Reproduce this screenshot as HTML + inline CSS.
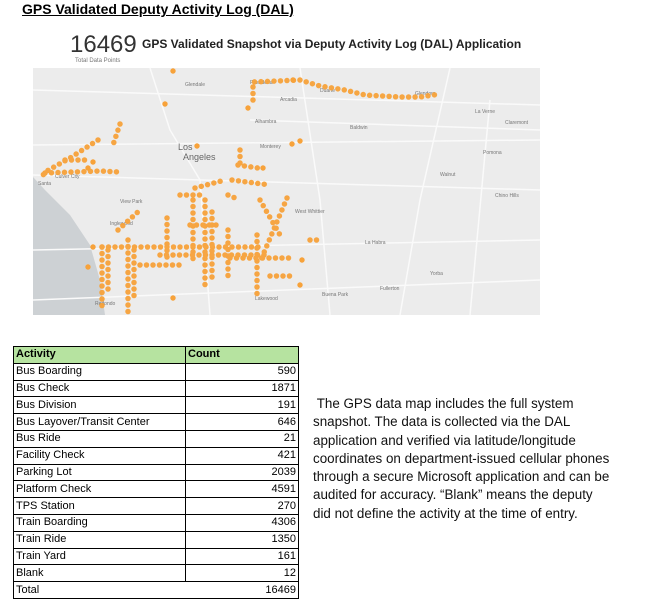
<!DOCTYPE html>
<html><head><meta charset="utf-8"><style>
body{margin:0;width:664px;height:604px;background:#fff;position:relative;font-family:"Liberation Sans",sans-serif;overflow:hidden}
.a{position:absolute;white-space:nowrap}
table{position:absolute;left:13px;top:346px;border-collapse:collapse;font-size:11px;}
td{border:1px solid #000;height:15.8px;padding:0 2px;line-height:15px}
td.n{text-align:right}
.p{position:absolute;left:313px;top:395px;font-size:13.4px;line-height:18.3px;color:#111}
</style></head><body>
<div class="a" style="left:22px;top:1px;font-size:14px;font-weight:bold;text-decoration:underline">GPS Validated Deputy Activity Log (DAL)</div>
<div class="a" style="left:70px;top:31px;font-size:24px;color:#333;font-weight:300">16469</div>
<div class="a" style="left:75px;top:58px;font-size:6px;color:#777">Total Data Points</div>
<div class="a" style="left:142px;top:37px;font-size:12px;font-weight:bold;color:#222">GPS Validated Snapshot via Deputy Activity Log (DAL) Application</div>
<svg class="a" style="left:0;top:0" width="664" height="330">
<rect x="33" y="68" width="507" height="247" fill="#ececec"/>
<path d="M33 177 L45 190 L70 215 L90 245 L100 280 L105 315 L33 315 Z" fill="#cdd1d4"/>
<g stroke="#fafafa" stroke-width="1.5" fill="none">
<path d="M33 90 L540 105"/><path d="M150 68 L170 130 L200 180 L210 315"/><path d="M33 145 L540 140"/>
<path d="M33 175 L540 190"/><path d="M300 68 L320 200 L330 315"/><path d="M450 68 L420 200 L400 315"/>
<path d="M33 250 L540 240"/><path d="M250 120 L540 130"/><path d="M33 300 L540 280"/><path d="M490 100 L470 315"/>
</g>
<g fill="#777" font-size="5">
<text x="185" y="86">Glendale</text><text x="250" y="84">Pasadena</text><text x="320" y="92">Duarte</text><text x="415" y="95">Glendora</text>
<text x="255" y="123">Alhambra</text><text x="280" y="101">Arcadia</text><text x="475" y="113">La Verne</text><text x="505" y="124">Claremont</text>
<text x="178" y="150" font-size="9" fill="#666">Los</text><text x="183" y="160" font-size="9" fill="#666">Angeles</text>
<text x="260" y="148">Monterey</text><text x="350" y="129">Baldwin</text><text x="483" y="154">Pomona</text><text x="440" y="176">Walnut</text>
<text x="120" y="203">View Park</text><text x="110" y="225">Inglewood</text><text x="365" y="244">La Habra</text><text x="380" y="290">Fullerton</text>
<text x="295" y="213">West Whittier</text><text x="255" y="300">Lakewood</text><text x="95" y="305">Redondo</text><text x="495" y="197">Chino Hills</text>
<text x="55" y="178">Culver City</text><text x="38" y="185">Santa</text><text x="322" y="296">Buena Park</text><text x="430" y="275">Yorba</text>
</g>
<g stroke="#f7a23a" stroke-width="5.5" stroke-linecap="round" fill="none" stroke-dasharray="0 6.5" opacity="0.95">
<path d="M253 100 L253 82 L300 80 L320 86 L345 90 L365 95 L400 97 L420 97 L440 94"/>
<path d="M120 124 L113 145 M98 140 L70 158 L45 172 L40 180"/>
<path d="M45 173 L100 171 L120 172 M65 160 L90 160"/>
<path d="M240 150 L240 166 M232 180 L270 185 M238 165 L258 168"/>
<path d="M102 247 L263 247"/>
<path d="M102 247 L102 310 M108 250 L108 290 M128 240 L128 315 M134 250 L134 300"/>
<path d="M167 218 L167 262 M193 200 L193 265 M205 200 L205 285 M212 212 L212 280 M257 235 L257 295 M228 230 L228 280"/>
<path d="M287 198 L260 262 M260 200 L280 235 M228 195 L240 200"/>
<path d="M230 258 L290 258 M160 255 L270 255 M140 265 L180 265 M118 230 L140 210 M190 225 L220 225 M270 276 L290 276"/>
<path d="M195 188 L225 180 M180 195 L200 195 M310 240 L320 240"/>
</g>
<g fill="#f7a23a"><circle cx="173" cy="71" r="2.7"/><circle cx="165" cy="104" r="2.7"/><circle cx="197" cy="146" r="2.7"/><circle cx="248" cy="108" r="2.7"/><circle cx="300" cy="141" r="2.7"/><circle cx="292" cy="144" r="2.7"/><circle cx="293" cy="80" r="2.7"/><circle cx="93" cy="162" r="2.7"/><circle cx="88" cy="168" r="2.7"/><circle cx="173" cy="298" r="2.7"/><circle cx="88" cy="267" r="2.7"/><circle cx="93" cy="247" r="2.7"/><circle cx="300" cy="285" r="2.7"/><circle cx="263" cy="168" r="2.7"/><circle cx="302" cy="260" r="2.7"/></g>
</svg>
<table>
<tr style="background:#b6e3a0;font-weight:bold"><td style="width:167px">Activity</td><td style="width:108px">Count</td></tr>
<tr><td>Bus Boarding</td><td class="n">590</td></tr>
<tr><td>Bus Check</td><td class="n">1871</td></tr>
<tr><td>Bus Division</td><td class="n">191</td></tr>
<tr><td>Bus Layover/Transit Center</td><td class="n">646</td></tr>
<tr><td>Bus Ride</td><td class="n">21</td></tr>
<tr><td>Facility Check</td><td class="n">421</td></tr>
<tr><td>Parking Lot</td><td class="n">2039</td></tr>
<tr><td>Platform Check</td><td class="n">4591</td></tr>
<tr><td>TPS Station</td><td class="n">270</td></tr>
<tr><td>Train Boarding</td><td class="n">4306</td></tr>
<tr><td>Train Ride</td><td class="n">1350</td></tr>
<tr><td>Train Yard</td><td class="n">161</td></tr>
<tr><td>Blank</td><td class="n">12</td></tr>
<tr><td colspan="2" style="position:relative">Total<span style="position:absolute;right:2px">16469</span></td></tr>
</table>
<div class="p">&nbsp;The GPS data map includes the full system<br>snapshot. The data is collected via the DAL<br>application and verified via latitude/longitude<br>coordinates on department-issued cellular phones<br>through a secure Microsoft application and can be<br>audited for accuracy. “Blank” means the deputy<br>did not define the activity at the time of entry.</div>
</body></html>
